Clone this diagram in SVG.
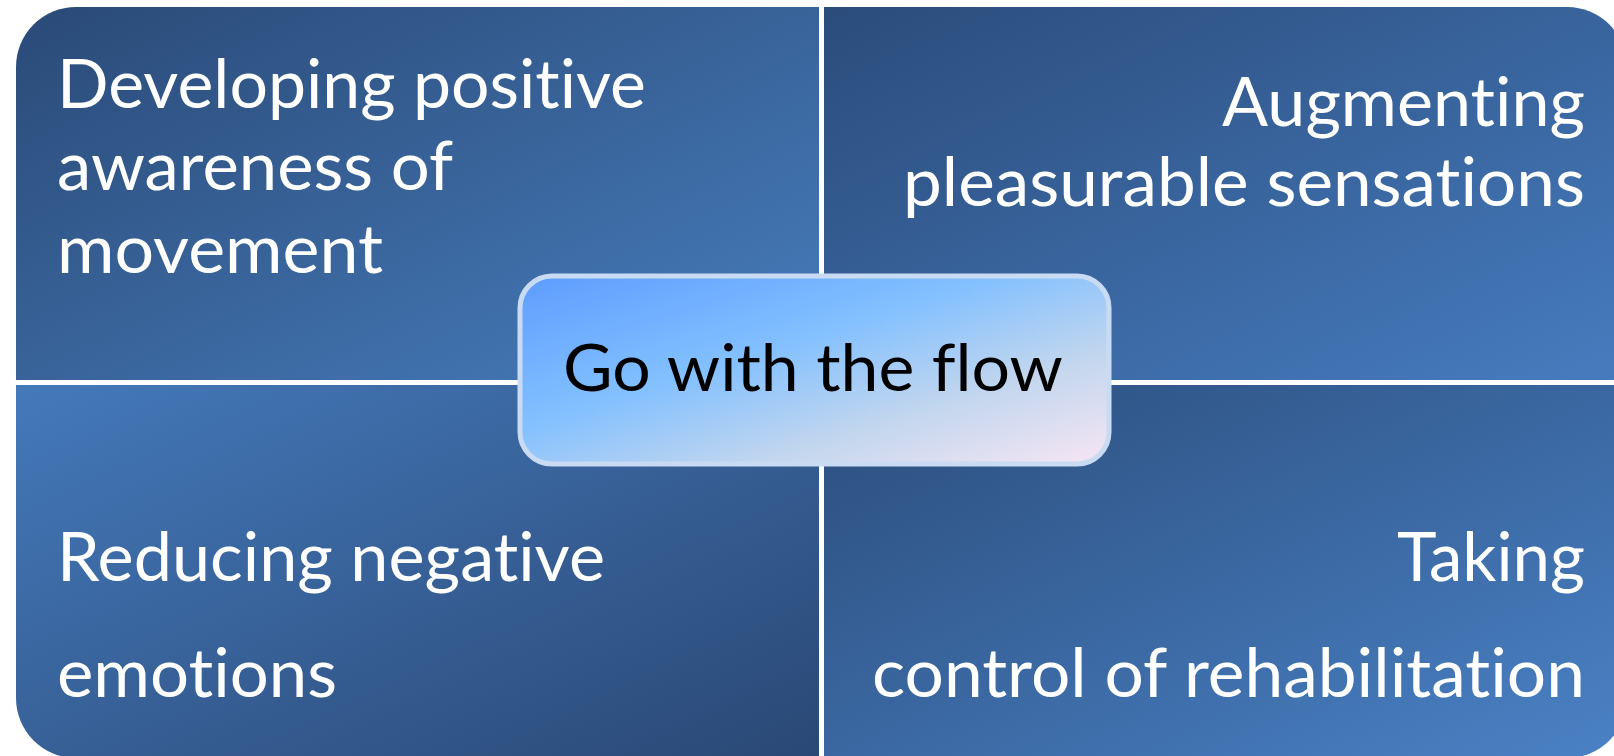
<svg xmlns="http://www.w3.org/2000/svg" width="1614" height="756" viewBox="0 0 1614 756">
  <defs>
    <linearGradient id="gTL" x1="0" y1="0" x2="1" y2="1">
      <stop offset="0" stop-color="#2a4a77"/>
      <stop offset="1" stop-color="#477dbd"/>
    </linearGradient>
    <linearGradient id="gTR" x1="0" y1="0" x2="1" y2="1">
      <stop offset="0" stop-color="#2b4c7b"/>
      <stop offset="1" stop-color="#467cbf"/>
    </linearGradient>
    <linearGradient id="gBL" x1="0" y1="0" x2="1" y2="1">
      <stop offset="0" stop-color="#4479ba"/>
      <stop offset="1" stop-color="#2a4875"/>
    </linearGradient>
    <linearGradient id="gBR" x1="0" y1="0" x2="1" y2="1">
      <stop offset="0" stop-color="#2b4d7c"/>
      <stop offset="1" stop-color="#4a82c6"/>
    </linearGradient>
    <linearGradient id="gCenter" x1="0" y1="0" x2="1" y2="1">
      <stop offset="0" stop-color="#5e9cff"/>
      <stop offset="0.4" stop-color="#82c0ff"/>
      <stop offset="0.7" stop-color="#c2d6ee"/>
      <stop offset="1" stop-color="#f7e6f4"/>
    </linearGradient>
    <style>
      .q { stroke: none; }
      text { font-variant-ligatures: none; font-feature-settings: "liga" 0, "clig" 0; }
      .lbl { font-family: Lato, "Open Sans", "Liberation Sans", sans-serif; font-size: 68px; fill: #ffffff; }
      .ctr { font-family: Lato, "Open Sans", "Liberation Sans", sans-serif; font-size: 66px; fill: #000000; }
    </style>
  </defs>

  <rect width="1614" height="756" fill="#ffffff"/>

  <!-- top-left quadrant -->
  <g id="q-top-left">
    <path class="q" fill="url(#gTL)" d="M16 67 A60 60 0 0 1 76 7 H819 V380 H16 Z"/>
    <text class="lbl" x="57" y="108" textLength="589" lengthAdjust="spacingAndGlyphs">Developing positive</text>
    <text class="lbl" x="57" y="190" textLength="396" lengthAdjust="spacingAndGlyphs">awareness of</text>
    <text class="lbl" x="57" y="273" textLength="326" lengthAdjust="spacingAndGlyphs">movement</text>
  </g>

  <!-- top-right quadrant -->
  <g id="q-top-right">
    <path class="q" fill="url(#gTR)" d="M824 7 H1567 A60 60 0 0 1 1627 67 V380 H824 Z"/>
    <text class="lbl" x="1585" y="126" text-anchor="end" textLength="363" lengthAdjust="spacingAndGlyphs">Augmenting</text>
    <text class="lbl" x="1585" y="206" text-anchor="end" textLength="682" lengthAdjust="spacingAndGlyphs">pleasurable sensations</text>
  </g>

  <!-- bottom-left quadrant -->
  <g id="q-bottom-left">
    <path class="q" fill="url(#gBL)" d="M16 385 H819 V758 H76 A60 60 0 0 1 16 698 Z"/>
    <text class="lbl" x="57" y="581" textLength="548" lengthAdjust="spacingAndGlyphs">Reducing negative</text>
    <text class="lbl" x="57" y="697" textLength="280" lengthAdjust="spacingAndGlyphs">emotions</text>
  </g>

  <!-- bottom-right quadrant -->
  <g id="q-bottom-right">
    <path class="q" fill="url(#gBR)" d="M824 385 H1627 V698 A60 60 0 0 1 1567 758 H824 Z"/>
    <text class="lbl" x="1585" y="581" text-anchor="end" textLength="188" lengthAdjust="spacingAndGlyphs">Taking</text>
    <text class="lbl" x="1585" y="697" text-anchor="end" textLength="713" lengthAdjust="spacingAndGlyphs">control of rehabilitation</text>
  </g>

  <!-- central hub -->
  <g id="center">
    <rect x="520" y="276" width="589" height="188" rx="32" ry="32" fill="url(#gCenter)" stroke="#c9dbf2" stroke-width="5"/>
    <text class="ctr" x="563" y="391" textLength="500" lengthAdjust="spacingAndGlyphs">Go with the flow</text>
  </g>

  <g id="connectors"></g>
</svg>
